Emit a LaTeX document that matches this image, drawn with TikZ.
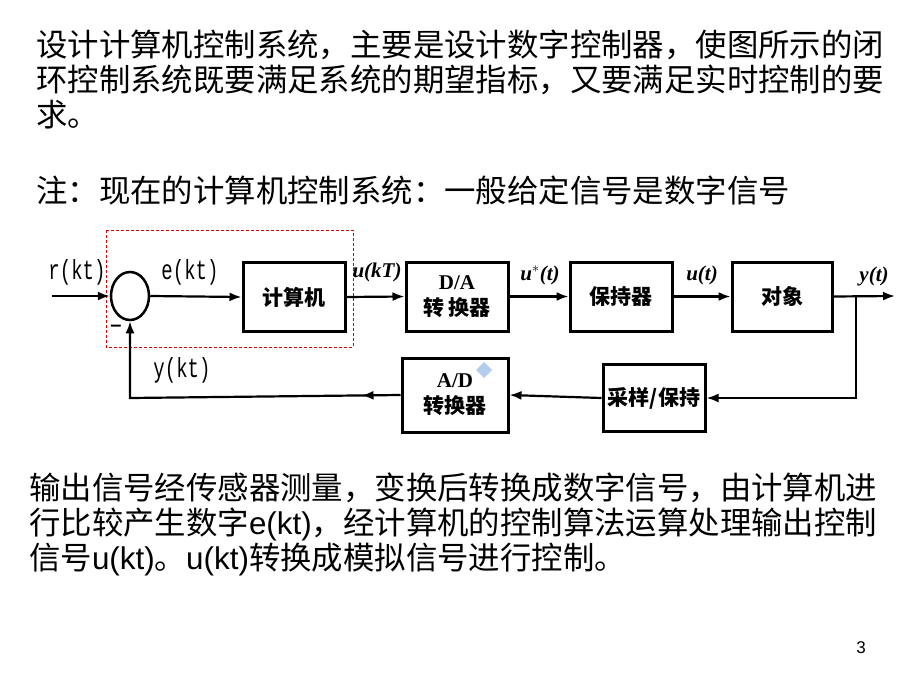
\documentclass[tikz,border=0pt]{standalone}
\usepackage{fontspec}
\setmainfont{Liberation Sans}
\newfontfamily\cjk{Noto Sans CJK SC}
\newfontfamily\tms{Liberation Serif}
\newfontfamily\mono{Liberation Mono}
\usetikzlibrary{arrows.meta,decorations.markings,shapes.geometric}
\tikzset{
  para/.style={anchor=base west, inner sep=0pt, font=\fontsize{31.4}{35}\selectfont},
  blk/.style={draw, line width=3pt, minimum width=102, minimum height=69, inner sep=0pt, align=center,
    font=\fontsize{21}{26}\selectfont\cjk\bfseries},
  sig/.style={line width=2.2pt},
  tip/.style={-{Latex[length=12pt,width=9pt]}},
  monolab/.style={font=\fontsize{19}{20}\selectfont\mono, inner sep=0pt},
  itlab/.style={font=\fontsize{21}{22}\selectfont\tms\bfseries\itshape, inner sep=0pt},
}
\newcommand{\tallx}[1]{\scalebox{1}[1.45]{#1}}
\begin{document}
\begin{tikzpicture}[x=1pt,y=-1pt]
\fill[white] (0,0) rectangle (920,690);
\useasboundingbox (0,0) rectangle (920,690);

% top text
\node[para] (t1) at (36,57) {\cjk 设计计算机控制系统，主要是设计数字控制器，使图所示的闭};
\node[para] (t2) at (36,92) {\cjk 环控制系统既要满足系统的期望指标，又要满足实时控制的要};
\node[para] (t3) at (36,126) {\cjk 求。};
\node[para] (t4) at (36,202) {\cjk 注：现在的计算机控制系统：一般给定信号是数字信号};

% bottom text
\node[para] (b1) at (29,499) {\cjk 输出信号经传感器测量，变换后转换成数字信号，由计算机进};
\node[para] (b2) at (29,534) {{\cjk 行比较产生数字}e(kt){\cjk ，经计算机的控制算法运算处理输出控制}};
\node[para] (b3) at (29,569) {{\cjk 信号}u(kt){\cjk 。}u(kt){\cjk 转换成模拟信号进行控制。}};
\node[font=\fontsize{17}{18}\selectfont, inner sep=0pt] (pg) at (861,648) {3};

% red dashed frame
\draw[red!85!black, line width=1pt, dash pattern=on 3pt off 2pt] (106,230) rectangle (353,347);

% blocks
\node[draw, ellipse, line width=2.5pt, minimum width=38, minimum height=48, inner sep=0pt] (sum) at (130,296) {};
\node[blk] (comp) at (294,297) {计算机};
\node[blk] (da) at (457,296.5) {{\tms\bfseries D/A}\\转\,换器};
\node[blk] (zoh) at (621,296.5) {保持器};
\node[blk, minimum width=100] (plant) at (782,296.5) {对象};
\node[blk, minimum width=106, minimum height=74] (ad) at (455,395) {{\tms\bfseries A/D}\\转换器};
\node[blk, minimum height=67] (sh) at (654,398) {采样/保持};

% coordinates
\coordinate (in) at (52,296);
\coordinate (out) at (895,296);
\coordinate (br) at (856,296);
\coordinate (brc) at (856,398);
\coordinate (fbc) at (130,398);

% connectors
\draw[sig,tip] (in) -- (sum.west);
\draw[sig,tip] (sum.east) -- (comp.west);
\draw[sig,tip] (comp.east) -- (da.west);
\draw[sig,tip] (da.east) -- (zoh.west);
\draw[sig,tip] (zoh.east) -- (plant.west);
\draw[sig,tip] (plant.east) -- (out);
\draw[sig,tip] (br) -- (brc) -- (sh.east);
\draw[sig,tip] (sh.west) -- (ad.east);
\draw[sig,tip, postaction={decorate}, decoration={markings, mark=at position 39pt with {\arrow{Latex[length=12pt,width=9pt]}}}]
  (ad.west) -- (fbc) -- (sum.south);

% labels
\node[monolab] (lr) at (77,272) {\tallx{r(kt)}};
\node[monolab] (le) at (190,272) {\tallx{e(kt)}};
\node[monolab] (ly) at (182,370) {\tallx{y(kt)}};
\node[font=\fontsize{20}{20}\selectfont\bfseries, inner sep=0pt] (lminus) at (116,328) {--};
\node[itlab] (lu) at (377,272) {u(kT)};
\node[itlab] (lus) at (540,275) {u$^{\ast}$(t)};
\node[itlab] (lut) at (702,275) {u(t)};
\node[itlab] (lyt) at (874,276) {y(t)};

% small diamond mark
\fill[cyan!60!blue!30] (484,362) -- (492,370) -- (484,378) -- (476,370) -- cycle;
\end{tikzpicture}
\end{document}
